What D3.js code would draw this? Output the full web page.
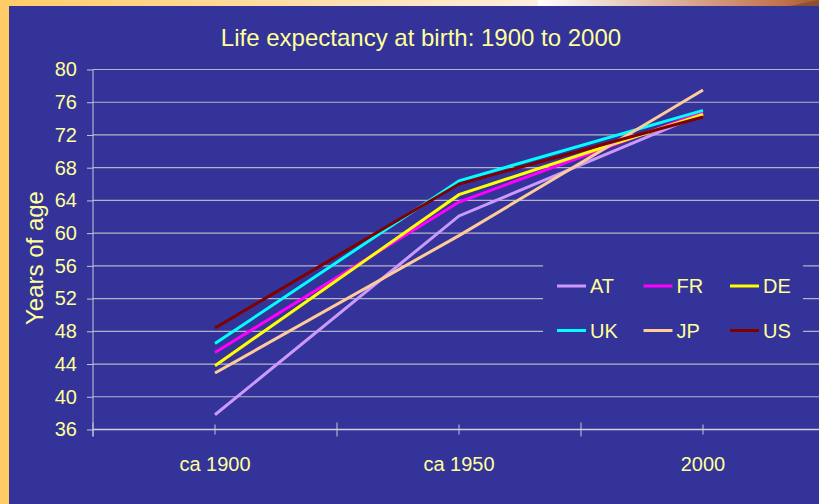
<!DOCTYPE html>
<html>
<head>
<meta charset="utf-8">
<script src="https://cdn.jsdelivr.net/npm/d3@7"></script>
<style>
  body { margin: 0; background: #333399; }
  text { font-family: "Liberation Sans", Arial, sans-serif; fill: #ffff99; }
</style>
</head>
<body>
<script>
// data
var periods = ["ca 1900", "ca 1950", "2000"];
var countries = ["AT", "FR", "DE", "UK", "JP", "US"];
var colors = ["#cc99ff", "#ff00ff", "#ffff00", "#00ffff", "#ffcc99", "#800000"];
var AT = [37.8, 62.1, 74.6];
var FR = [45.4, 63.8, 74.8];
var DE = [43.8, 64.7, 74.5];
var UK = [46.5, 66.4, 75.0];
var JP = [42.9, 59.7, 77.5];
var US = [48.4, 66.0, 74.2];
var yTicks = [36, 40, 44, 48, 52, 56, 60, 64, 68, 72, 76, 80];

var seriesValues = [AT, FR, DE, UK, JP, US];
var series = countries.map(function(c, i) {
  return {name: c, color: colors[i], values: seriesValues[i]};
});

var screen = {width: 819, height: 504};
var plot = {left: 93, right: 825, top: 69.5, bottom: 429.5};

var svg = d3.select("body")
            .append("svg")
            .attr("width", screen.width)
            .attr("height", screen.height);

var defs = svg.append("defs");
var g1 = defs.append("linearGradient").attr("id", "topLeft");
g1.append("stop").attr("offset", "0%").attr("stop-color", "#ffcc66");
g1.append("stop").attr("offset", "100%").attr("stop-color", "#ffeedd");
var g2 = defs.append("linearGradient").attr("id", "topRight");
g2.append("stop").attr("offset", "0%").attr("stop-color", "#ffffff");
g2.append("stop").attr("offset", "88%").attr("stop-color", "#c0704a");
g2.append("stop").attr("offset", "100%").attr("stop-color", "#a05c38");

// background and decoration strips
svg.append("rect").attr("width", screen.width).attr("height", screen.height).attr("fill", "#333399");
svg.append("rect").attr("x", 0).attr("y", 0).attr("width", 9).attr("height", screen.height).attr("fill", "#ffcc66");
svg.append("rect").attr("x", 0).attr("y", 0).attr("width", 538).attr("height", 6).attr("fill", "url(#topLeft)");
svg.append("rect").attr("x", 538).attr("y", 0).attr("width", 281).attr("height", 6).attr("fill", "url(#topRight)");
svg.append("path").attr("d", "M790,6 L819,0 L819,6 Z").attr("fill", "#8a5030");

var x = d3.scaleBand()
          .domain(periods)
          .range([plot.left, plot.right]);

var y = d3.scaleLinear()
          .domain([36, 80])
          .range([plot.bottom, plot.top]);

// gridlines
svg.append("g")
   .selectAll("line")
   .data(yTicks)
   .enter()
   .append("line")
   .attr("x1", plot.left)
   .attr("x2", plot.right)
   .attr("y1", function(d) { return y(d); })
   .attr("y2", function(d) { return y(d); })
   .attr("stroke", "#b4b4c8")
   .attr("stroke-width", 1.2);

// y axis
var yAxis = svg.append("g")
               .attr("transform", "translate(" + plot.left + ",0)")
               .call(d3.axisLeft(y).tickValues(yTicks).tickSize(6).tickPadding(10));
yAxis.select(".domain").remove();
yAxis.selectAll(".tick line").attr("stroke", "#c8c8d8");
yAxis.selectAll(".tick text")
     .style("font-size", "20px")
     .attr("fill", "#ffff99");

svg.append("line")
   .attr("x1", plot.left).attr("x2", plot.left)
   .attr("y1", plot.top).attr("y2", plot.bottom + 7)
   .attr("stroke", "#c8c8d8");

// x axis
svg.append("line")
   .attr("x1", plot.left).attr("x2", plot.right)
   .attr("y1", plot.bottom).attr("y2", plot.bottom)
   .attr("stroke", "#d0d0e0")
   .attr("stroke-width", 1.5);

var bounds = periods.map(function(p) { return x(p); }).concat([plot.right]);
svg.append("g")
   .selectAll("line")
   .data(bounds)
   .enter()
   .append("line")
   .attr("x1", function(d) { return d; })
   .attr("x2", function(d) { return d; })
   .attr("y1", plot.bottom - 7)
   .attr("y2", plot.bottom + 7)
   .attr("stroke", "#c8c8d8");

svg.append("g")
   .selectAll("line")
   .data(periods)
   .enter()
   .append("line")
   .attr("x1", function(d) { return x(d) + x.bandwidth() / 2; })
   .attr("x2", function(d) { return x(d) + x.bandwidth() / 2; })
   .attr("y1", plot.bottom - 5)
   .attr("y2", plot.bottom + 5)
   .attr("stroke", "#c8c8d8");

svg.append("g")
   .selectAll("text")
   .data(periods)
   .enter()
   .append("text")
   .attr("x", function(d) { return x(d) + x.bandwidth() / 2; })
   .attr("y", 471)
   .attr("text-anchor", "middle")
   .style("font-size", "20px")
   .text(function(d) { return d; });

// lines
var line = d3.line()
             .x(function(d, i) { return x(periods[i]) + x.bandwidth() / 2; })
             .y(function(d) { return y(d); });

svg.append("g")
   .selectAll("path")
   .data(series)
   .enter()
   .append("path")
   .attr("d", function(d) { return line(d.values); })
   .attr("fill", "none")
   .attr("stroke", function(d) { return d.color; })
   .attr("stroke-width", 3);

// legend
var legend = svg.append("g").attr("transform", "translate(543,263)");
legend.append("rect")
      .attr("width", 260)
      .attr("height", 92)
      .attr("fill", "#333399");

var items = legend.selectAll("g")
                  .data(series)
                  .enter()
                  .append("g")
                  .attr("transform", function(d, i) {
                    return "translate(" + (14 + (i % 3) * 86.5) + "," + (23 + Math.floor(i / 3) * 44.5) + ")";
                  });
items.append("line")
     .attr("x1", 0).attr("x2", 29)
     .attr("stroke", function(d) { return d.color; })
     .attr("stroke-width", 3);
items.append("text")
     .attr("x", 33)
     .attr("dy", "0.35em")
     .style("font-size", "20px")
     .text(function(d) { return d.name; });

// titles
svg.append("text")
   .attr("x", 421)
   .attr("y", 46)
   .attr("text-anchor", "middle")
   .style("font-size", "24px")
   .text("Life expectancy at birth: 1900 to 2000");

svg.append("text")
   .attr("transform", "translate(43,258) rotate(-90)")
   .attr("text-anchor", "middle")
   .style("font-size", "24px")
   .text("Years of age");
</script>
</body>
</html>
